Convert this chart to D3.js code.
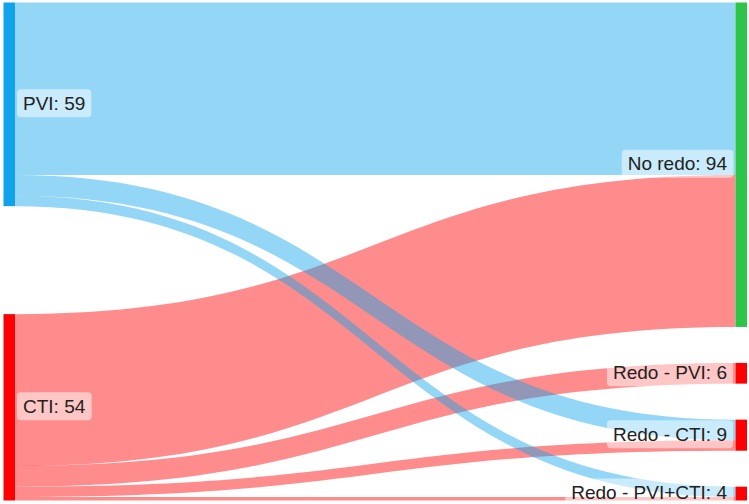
<!DOCTYPE html>
<html>
<head>
<meta charset="utf-8">
<script src="https://cdn.jsdelivr.net/npm/d3@7"></script>
<style>
  body { margin: 0; background: #fff; }
  text { font-family: "Liberation Sans", Arial, sans-serif; }
</style>
</head>
<body>
<svg id="chart" width="749" height="504"></svg>
<script>
// nodes and flows
var nodeNames = ["PVI", "CTI", "No redo", "Redo - PVI", "Redo - CTI", "Redo - PVI+CTI"];
var nodeColumn = [0, 0, 1, 1, 1, 1];
var linkSource = [1, 1, 1, 1, 0, 0, 0];
var linkTarget = [2, 3, 4, 5, 2, 4, 5];
var linkValue  = [44, 6, 3, 1, 50, 6, 3];

var nodeColors = ["#10a3ec", "#ff0000", "#2cc548", "#ff0000", "#ff0000", "#ff0000"];
var linkColors = {0: "rgba(16,163,236,0.45)", 1: "rgba(255,0,0,0.45)"};

var svg = d3.select("#chart"),
    x0 = 3.5, x1 = 747, y0 = 2.5, y1 = 500.5,
    nodeWidth = 11.5,
    nodePad = 36;

var nodes = nodeNames.map(function(n, i) {
  return {name: n, index: i, col: nodeColumn[i], sourceLinks: [], targetLinks: []};
});
var links = linkValue.map(function(v, i) {
  var l = {source: nodes[linkSource[i]], target: nodes[linkTarget[i]], value: v, index: i};
  l.source.sourceLinks.push(l);
  l.target.targetLinks.push(l);
  return l;
});
nodes.forEach(function(n) {
  n.value = Math.max(d3.sum(n.sourceLinks, function(l) { return l.value; }),
                     d3.sum(n.targetLinks, function(l) { return l.value; }));
});

// columns, scale
var columns = d3.groups(nodes, function(n) { return n.col; }).map(function(g) { return g[1]; });
var x = d3.scaleLinear().domain([0, columns.length - 1]).range([x0, x1 - nodeWidth]);
var ky = d3.min(columns, function(c) {
  return (y1 - y0 - (c.length - 1) * nodePad) / d3.sum(c, function(n) { return n.value; });
});
var h = d3.scaleLinear().domain([0, 1]).range([0, ky]);

columns.forEach(function(c) {
  var used = d3.sum(c, function(n) { return h(n.value); });
  var gap = c.length > 1 ? (y1 - y0 - used) / (c.length - 1) : 0;
  var y = c.length > 1 ? y0 : (y0 + y1 - used) / 2;
  c.forEach(function(n) {
    n.x0 = x(n.col);
    n.x1 = n.x0 + nodeWidth;
    n.y0 = y;
    n.y1 = y + h(n.value);
    y = n.y1 + gap;
  });
});

// link attachment points
nodes.forEach(function(n) {
  var ys = n.y0, yt = n.y0;
  n.sourceLinks.slice().sort(function(a, b) { return a.target.y0 - b.target.y0; })
    .forEach(function(l) { l.w = h(l.value); l.ys = ys; ys += l.w; });
  n.targetLinks.slice().sort(function(a, b) { return a.source.y0 - b.source.y0; })
    .forEach(function(l) { l.yt = yt; yt += h(l.value); });
});

function band(l) {
  var xs = l.source.x1, xt = l.target.x0,
      xm = d3.interpolateNumber(xs, xt)(0.5),
      p = d3.path();
  p.moveTo(xs, l.ys);
  p.bezierCurveTo(xm, l.ys, xm, l.yt, xt, l.yt);
  p.lineTo(xt, l.yt + l.w);
  p.bezierCurveTo(xm, l.yt + l.w, xm, l.ys + l.w, xs, l.ys + l.w);
  p.closePath();
  return p.toString();
}

svg.append("g").selectAll("path")
  .data(links)
  .enter().append("path")
    .attr("d", band)
    .attr("fill", function(d) { return linkColors[d.source.index]; });

svg.append("g").selectAll("rect")
  .data(nodes)
  .enter().append("rect")
    .attr("x", function(d) { return d.x0; })
    .attr("y", function(d) { return d.y0; })
    .attr("width", nodeWidth)
    .attr("height", function(d) { return d.y1 - d.y0; })
    .attr("fill", function(d, i) { return nodeColors[i]; });

// labels with soft white box
var lab = svg.append("g").selectAll("g")
  .data(nodes)
  .enter().append("g")
    .attr("transform", function(d) {
      var left = d.col === 0;
      return "translate(" + (left ? d.x1 + 8 : d.x0 - 8.5) + "," + ((d.y0 + d.y1) / 2 - 1) + ")";
    });

var box = lab.append("rect")
    .attr("rx", 4)
    .attr("fill", "#fff")
    .attr("fill-opacity", 0.5);

var txt = lab.append("text")
    .attr("font-size", 19)
    .attr("fill", "#222")
    .attr("dy", "0.35em")
    .attr("text-anchor", function(d) { return d.col === 0 ? "start" : "end"; })
    .text(function(d) { return d.name + ": " + d.value; });

txt.each(function(d) {
  var bb = this.getBBox();
  d3.select(this.previousSibling)
    .attr("x", bb.x - 6)
    .attr("y", -14)
    .attr("width", bb.width + 12)
    .attr("height", 28);
});
</script>
</body>
</html>
